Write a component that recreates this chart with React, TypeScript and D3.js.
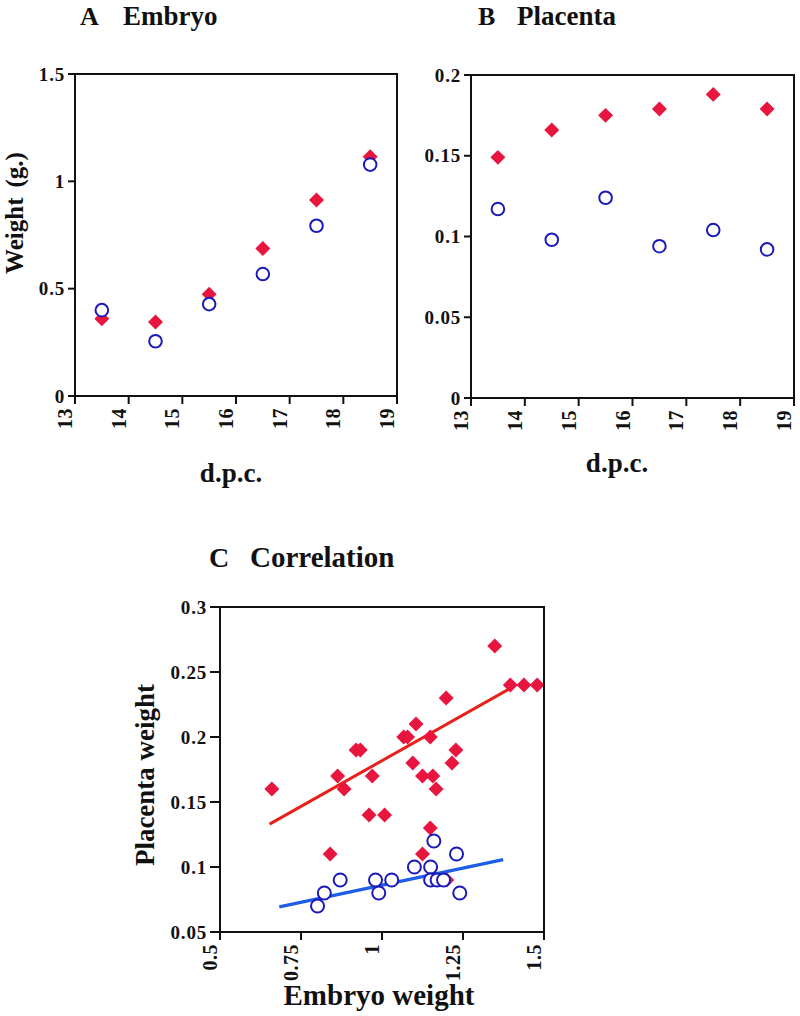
import React from "react";
import * as d3 from "d3";

// days post coitum
const dpc = [13.5, 14.5, 15.5, 16.5, 17.5, 18.5];
const embryoRed = [0.36, 0.345, 0.474, 0.687, 0.913, 1.115];
const embryoBlue = [0.4, 0.255, 0.428, 0.568, 0.793, 1.078];
const placentaRed = [0.149, 0.166, 0.175, 0.179, 0.188, 0.179];
const placentaBlue = [0.117, 0.098, 0.124, 0.094, 0.104, 0.092];

// correlation panel
const corrRedX = [0.66, 0.84, 0.863, 0.883, 0.92, 0.933, 0.96, 0.97, 1.008, 1.067, 1.079, 1.105, 1.095, 1.125, 1.125, 1.149, 1.149, 1.157, 1.167, 1.198, 1.2, 1.216, 1.228, 1.348, 1.396, 1.438, 1.479];
const corrRedY = [0.16, 0.11, 0.17, 0.16, 0.19, 0.19, 0.14, 0.17, 0.14, 0.2, 0.2, 0.21, 0.18, 0.17, 0.11, 0.13, 0.2, 0.17, 0.16, 0.23, 0.09, 0.18, 0.19, 0.27, 0.24, 0.24, 0.24];
const corrBlueX = [0.801, 0.822, 0.871, 0.98, 0.99, 1.03, 1.1, 1.15, 1.16, 1.15, 1.17, 1.19, 1.23, 1.24];
const corrBlueY = [0.07, 0.08, 0.09, 0.09, 0.08, 0.09, 0.1, 0.1, 0.12, 0.09, 0.09, 0.09, 0.11, 0.08];
const redFitX = [0.653, 1.4];
const redFitY = [0.133, 0.238];
const blueFitX = [0.683, 1.374];
const blueFitY = [0.0693, 0.1057];

const dpcTicks = [13, 14, 15, 16, 17, 18, 19];
const embryoTicks = [0, 0.5, 1, 1.5];
const placentaTicks = [0, 0.05, 0.1, 0.15, 0.2];
const corrXTicks = [0.5, 0.75, 1, 1.25, 1.5];
const corrYTicks = [0.05, 0.1, 0.15, 0.2, 0.25, 0.3];

const RED = "#e8163f";
const BLUE = "#1a1ab8";
const FONT = "'Liberation Serif', 'Times New Roman', serif";
const fmt = d3.format("~g");

const diamond = d3.symbol().type(d3.symbolSquare).size(112)();

type PanelProps = {
  x: d3.ScaleLinear<number, number>;
  y: d3.ScaleLinear<number, number>;
  xTicks: number[];
  yTicks: number[];
  yTickLen?: number;
  children?: React.ReactNode;
};

function Frame({ x, y, xTicks, yTicks, yTickLen = 7, children }: PanelProps) {
  const [x0, x1] = x.range();
  const [y1, y0] = y.range();
  return (
    <g>
      {children}
      <rect x={x0} y={y0} width={x1 - x0} height={y1 - y0} fill="none" stroke="#111" strokeWidth={2} />
      {xTicks.map((t) => (
        <g key={"x" + t}>
          <line x1={x(t)} x2={x(t)} y1={y1} y2={y1 + 8} stroke="#111" strokeWidth={2} />
          <text
            transform={`translate(${x(t) - 3},${y1 + 12}) rotate(-90)`}
            textAnchor="end"
            fontFamily={FONT}
            fontWeight="bold"
            fontSize={20}
            letterSpacing={0.5}
            fill="#111"
          >
            {fmt(t)}
          </text>
        </g>
      ))}
      {yTicks.map((t) => (
        <g key={"y" + t}>
          <line x1={x0 - yTickLen} x2={x0} y1={y(t)} y2={y(t)} stroke="#111" strokeWidth={2} />
          <text
            x={x0 - yTickLen - 3}
            y={y(t)}
            dy="0.35em"
            textAnchor="end"
            fontFamily={FONT}
            fontWeight="bold"
            fontSize={19}
            letterSpacing={0.8}
            fill="#111"
          >
            {fmt(t)}
          </text>
        </g>
      ))}
    </g>
  );
}

function Points({ xs, ys, x, y, r = 6.3 }: { xs: number[]; ys: number[][]; x: any; y: any; r?: number }) {
  const [reds, blues] = ys;
  return (
    <g>
      {reds.map((v, i) => (
        <path key={"r" + i} d={diamond} transform={`translate(${x(xs[i])},${y(v)}) rotate(45)`} fill={RED} />
      ))}
      {blues.map((v, i) => (
        <circle key={"b" + i} cx={x(xs[i])} cy={y(v)} r={r} fill="white" stroke={BLUE} strokeWidth={2} />
      ))}
    </g>
  );
}

export default function App() {
  const xA = d3.scaleLinear().domain([13, 19]).range([75, 397]);
  const yA = d3.scaleLinear().domain([0, 1.5]).range([396, 74]);
  const xB = d3.scaleLinear().domain([13, 19]).range([471, 794]);
  const yB = d3.scaleLinear().domain([0, 0.2]).range([398, 75]);
  const xC = d3.scaleLinear().domain([0.5, 1.5]).range([220, 544]);
  const yC = d3.scaleLinear().domain([0.05, 0.3]).range([932, 607]);

  const line = d3.line<[number, number]>();
  const redFit = line(redFitX.map((v, i) => [xC(v), yC(redFitY[i])]));
  const blueFit = line(blueFitX.map((v, i) => [xC(v), yC(blueFitY[i])]));

  const title = { fontFamily: FONT, fontWeight: "bold" as const, fill: "#111" };

  return (
    <svg width={800} height={1016} style={{ position: "absolute", left: 0, top: 0, background: "white" }}>
      {/* A. Embryo */}
      <text x={80} y={25} fontSize={26} {...title}>A</text>
      <text x={123} y={25} fontSize={27} {...title}>Embryo</text>
      <Frame x={xA} y={yA} xTicks={dpcTicks} yTicks={embryoTicks}>
        <Points xs={dpc} ys={[embryoRed, embryoBlue]} x={xA} y={yA} />
      </Frame>
      <text transform="translate(23,213) rotate(-90)" textAnchor="middle" fontSize={25} {...title}>
        Weight<tspan dx={10}>(g.)</tspan>
      </text>
      <text x={231} y={482} textAnchor="middle" fontSize={27} {...title}>d.p.c.</text>

      {/* B. Placenta */}
      <text x={478} y={25} fontSize={26} {...title}>B</text>
      <text x={517} y={25} fontSize={27} {...title}>Placenta</text>
      <Frame x={xB} y={yB} xTicks={dpcTicks} yTicks={placentaTicks}>
        <Points xs={dpc} ys={[placentaRed, placentaBlue]} x={xB} y={yB} />
      </Frame>
      <text x={617} y={472} textAnchor="middle" fontSize={27} {...title}>d.p.c.</text>

      {/* C. Correlation */}
      <text x={209} y={567} fontSize={28} {...title}>C</text>
      <text x={250} y={567} fontSize={29} {...title}>Correlation</text>
      <Frame x={xC} y={yC} xTicks={corrXTicks} yTicks={corrYTicks} yTickLen={10}>
        <path d={redFit ?? ""} fill="none" stroke="#e8201c" strokeWidth={3} />
        <path d={blueFit ?? ""} fill="none" stroke="#1e5ee6" strokeWidth={3.5} />
        <g>
          {corrRedX.map((v, i) => (
            <path key={"cr" + i} d={diamond} transform={`translate(${xC(v)},${yC(corrRedY[i])}) rotate(45)`} fill={RED} />
          ))}
          {corrBlueX.map((v, i) => (
            <circle key={"cb" + i} cx={xC(v)} cy={yC(corrBlueY[i])} r={6.5} fill="white" stroke={BLUE} strokeWidth={2} />
          ))}
        </g>
      </Frame>
      <text transform="translate(154,775) rotate(-90)" textAnchor="middle" fontSize={27} {...title}>
        Placenta weight
      </text>
      <text x={379} y={1005} textAnchor="middle" fontSize={29} {...title}>Embryo weight</text>
    </svg>
  );
}
